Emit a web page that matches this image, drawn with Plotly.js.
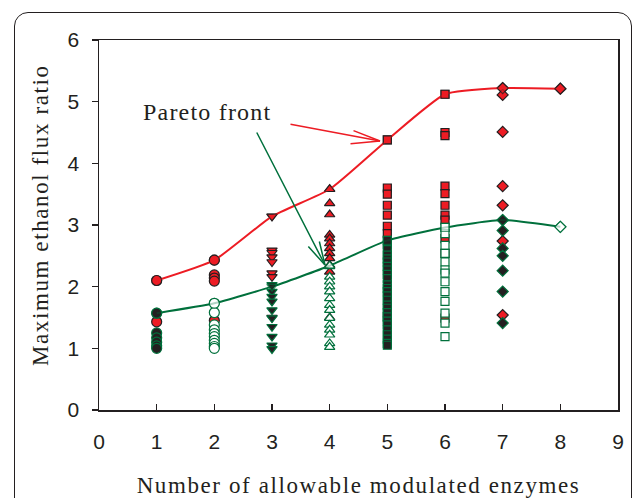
<!DOCTYPE html>
<html>
<head>
<meta charset="utf-8">
<script src="https://cdn.plot.ly/plotly-3.0.1.min.js"></script>
<style>
  html, body { margin: 0; padding: 0; background: #ffffff; }
  #wrap { position: relative; width: 636px; height: 498px; overflow: hidden; }
  #frame { position: absolute; left: 14px; top: 12px; width: 618px; height: 600px;
           border: 1.5px solid #231f20; border-radius: 14px; box-sizing: border-box; }
  #chart { position: absolute; left: 0; top: 0; width: 636px; height: 498px; }
  .xtitle { letter-spacing: 1.6px; }
  .annotation-text { letter-spacing: 1.2px; }
  .annotation[data-index="1"] .annotation-text { letter-spacing: 1.6px; }
</style>
</head>
<body>
<div id="wrap"><div id="frame"></div><div id="chart"></div></div>
<script>
// Number of allowable modulated enzymes
const nEnzymes = [1, 2, 3, 4, 5, 6, 7, 8];
// Pareto fronts
const upperFront = [2.10, 2.43, 3.14, 3.58, 4.38, 5.12, 5.22, 5.21];
const lowerFront = [1.57, 1.73, 2.00, 2.34, 2.75, 2.96, 3.08, 2.97];

// Individual solutions at each number of enzymes
const x1RedCircles = [2.10, 1.43];
const x1DarkCircles = [1.57, 1.25, 1.17, 1.10, 1.04, 1.00];
const x2RedCircles = [2.43, 2.19, 2.14, 2.09, 1.45];
const x2OpenCircles = [1.73, 1.58, 1.38, 1.30, 1.24, 1.19, 1.13, 1.08, 1.03, 1.00];
const x3RedTriangles = [3.14, 2.59, 2.55, 2.48, 2.40, 2.22, 2.16, 1.50];
const x3DarkTriangles = [2.03, 1.92, 1.84, 1.76, 1.62, 1.49, 1.35, 1.19, 1.05, 0.99];
const x4RedTriangles = [3.58, 3.35, 3.17, 2.84, 2.78, 2.70, 2.62, 2.54, 2.46, 2.35, 2.24, 1.50];
const x4OpenTriangles = [2.33, 2.16, 2.08, 2.00, 1.92, 1.81, 1.70, 1.62, 1.49, 1.38, 1.30, 1.22, 1.08, 1.02];
const x5RedSquares = [4.38, 3.60, 3.50, 3.32, 3.16, 2.98, 2.86, 1.51];
const x5DarkSquares = [2.75, 2.68, 2.60, 2.51, 2.45, 2.40, 2.33, 2.27, 2.20, 2.13, 2.03, 1.97, 1.92, 1.85,
                       1.78, 1.70, 1.65, 1.58, 1.51, 1.44, 1.38, 1.30, 1.22, 1.15, 1.08, 1.05];
const x6RedSquares = [5.12, 4.50, 4.45, 3.63, 3.51, 3.32, 3.16, 3.08, 2.78, 2.54, 1.49];
const x6OpenSquares = [2.96, 2.86, 2.67, 2.54, 2.40, 2.27, 2.22, 2.08, 1.92, 1.76, 1.57, 1.41, 1.19];
const x7RedDiamonds = [5.22, 5.11, 4.51, 3.63, 3.32, 2.74, 1.54];
const x7DarkDiamonds = [3.08, 2.91, 2.62, 2.50, 2.26, 1.92, 1.41];
const x8RedDiamonds = [5.21];
const x8OpenDiamonds = [2.97];

// Marker styles per front point
const upperSymbols = ['circle', 'circle', 'triangle-down', 'triangle-up', 'square', 'square', 'diamond', 'diamond'];
const lowerFills = ['dark', 'open', 'dark', 'open', 'dark', 'open', 'dark', 'open'];

const RED = '#ed1c24';
const GREEN = '#00703c';
const DARK = '#231f20';
const SIZES = { 'circle': 10, 'triangle-down': 9, 'triangle-up': 9, 'square': 8, 'diamond': 8.5 };

function group(xv, values, symbol, kind) {
  const fill = kind === 'red' ? RED : (kind === 'dark' ? DARK : '#ffffff');
  const edge = kind === 'red' ? DARK : GREEN;
  return {
    type: 'scatter', mode: 'markers',
    x: values.map(() => xv), y: values,
    marker: { symbol: symbol, size: SIZES[symbol], color: fill,
              line: { color: edge, width: 1.2 } },
    hoverinfo: 'x+y', showlegend: false
  };
}

const traces = [
  group(1, x1RedCircles, 'circle', 'red'),
  group(1, x1DarkCircles, 'circle', 'dark'),
  group(2, x2RedCircles, 'circle', 'red'),
  group(2, x2OpenCircles, 'circle', 'open'),
  group(3, x3RedTriangles, 'triangle-down', 'red'),
  group(3, x3DarkTriangles, 'triangle-down', 'dark'),
  group(4, x4RedTriangles, 'triangle-up', 'red'),
  group(4, x4OpenTriangles, 'triangle-up', 'open'),
  group(5, x5RedSquares, 'square', 'red'),
  group(5, x5DarkSquares, 'square', 'dark'),
  group(6, x6RedSquares, 'square', 'red'),
  group(6, x6OpenSquares, 'square', 'open'),
  group(7, x7RedDiamonds, 'diamond', 'red'),
  group(7, x7DarkDiamonds, 'diamond', 'dark'),
  group(8, x8RedDiamonds, 'diamond', 'red'),
  group(8, x8OpenDiamonds, 'diamond', 'open'),
  {
    type: 'scatter', mode: 'lines+markers', x: nEnzymes, y: lowerFront,
    line: { color: GREEN, width: 2, shape: 'spline', smoothing: 0.5 },
    marker: { symbol: upperSymbols, size: upperSymbols.map(s => SIZES[s]),
              color: lowerFills.map(k => k === 'dark' ? DARK : '#ffffff'),
              line: { color: GREEN, width: 1.2 } },
    showlegend: false
  },
  {
    type: 'scatter', mode: 'lines+markers', x: nEnzymes, y: upperFront,
    line: { color: RED, width: 2, shape: 'spline', smoothing: 0.5 },
    marker: { symbol: upperSymbols, size: upperSymbols.map(s => SIZES[s]), color: RED,
              line: { color: DARK, width: 1.2 } },
    showlegend: false
  }
];

const axisFont = { family: 'Liberation Sans, Arial, sans-serif', size: 21, color: DARK };
const titleFont = { family: 'Liberation Serif, Times New Roman, serif', size: 23, color: DARK };

function wing(x, y, ax, ay, color) {
  return { x: x, y: y, xref: 'x', yref: 'y', text: '', showarrow: true, arrowhead: 0,
           arrowwidth: 1.5, arrowcolor: color, ax: ax, ay: ay, standoff: 0, startstandoff: 0 };
}

const layout = {
  width: 636, height: 498,
  margin: { l: 99, r: 18, t: 40, b: 88 },
  paper_bgcolor: 'rgba(0,0,0,0)', plot_bgcolor: 'rgba(0,0,0,0)',
  xaxis: {
    range: [0, 9], dtick: 1, tick0: 0, ticks: 'inside', ticklen: 6, tickwidth: 1.3, tickcolor: DARK,
    showline: true, linecolor: DARK, linewidth: 1.5, mirror: true, showgrid: false, zeroline: false,
    tickfont: axisFont, ticklabelstandoff: 12,
    title: { text: 'Number of allowable modulated enzymes', font: titleFont, standoff: 27 }
  },
  yaxis: {
    range: [0, 6], dtick: 1, tick0: 0, ticks: 'outside', ticklen: 6, tickwidth: 1.3, tickcolor: DARK,
    showline: true, linecolor: DARK, linewidth: 1.5, mirror: true, showgrid: false, zeroline: false,
    tickfont: axisFont, ticklabelstandoff: 8
  },
  annotations: [
    { x: 1.87, y: 4.83, xref: 'x', yref: 'y', text: 'Pareto front', showarrow: false,
      font: { family: 'Liberation Serif, Times New Roman, serif', size: 24, color: DARK } },
    { x: -0.114, y: 0.527, xref: 'paper', yref: 'paper', text: 'Maximum ethanol flux ratio',
      textangle: -90, showarrow: false, xanchor: 'center', yanchor: 'middle', font: titleFont },
    wing(4.873, 4.362, -91, -17, RED),
    wing(4.873, 4.362, -28, -11, RED),
    wing(4.873, 4.362, -31, 3, RED),
    wing(3.919, 2.351, -69, -134, GREEN),
    wing(3.919, 2.351, -18, -20, GREEN),
    wing(3.919, 2.351, -6, -25, GREEN)
  ]
};

Plotly.newPlot('chart', traces, layout, { staticPlot: true, displayModeBar: false });
</script>
</body>
</html>
